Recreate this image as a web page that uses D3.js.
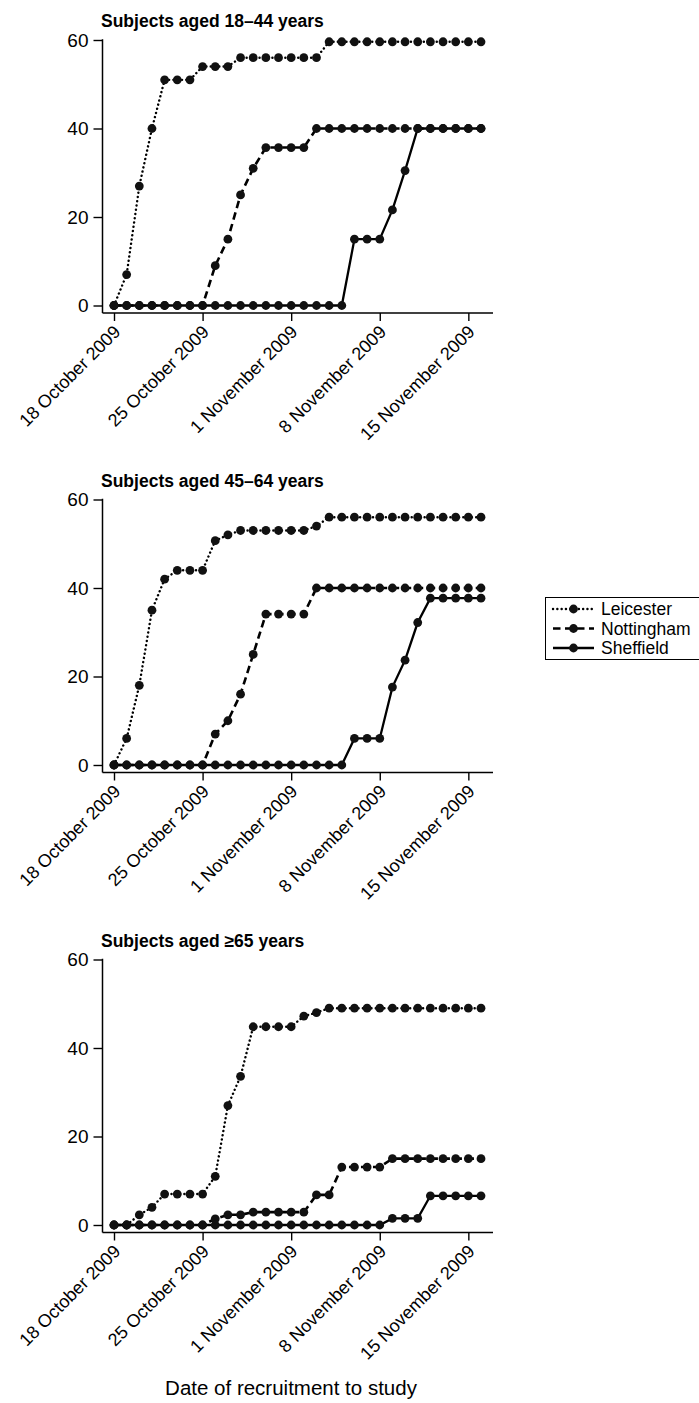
<!DOCTYPE html>
<html>
<head>
<meta charset="utf-8">
<script src="https://cdn.jsdelivr.net/npm/d3@7"></script>
<style>
  html, body { margin: 0; padding: 0; background: #fff; }
  svg { display: block; font-family: "Liberation Sans", Arial, Helvetica, sans-serif; }
</style>
</head>
<body>
<svg id="chart" width="699" height="1403"></svg>
<script>
// Recruitment dates (one point per day)
const dates = [
  "2009-10-18","2009-10-19","2009-10-20","2009-10-21","2009-10-22","2009-10-23",
  "2009-10-24","2009-10-25","2009-10-26","2009-10-27","2009-10-28","2009-10-29",
  "2009-10-30","2009-10-31","2009-11-01","2009-11-02","2009-11-03","2009-11-04",
  "2009-11-05","2009-11-06","2009-11-07","2009-11-08","2009-11-09","2009-11-10",
  "2009-11-11","2009-11-12","2009-11-13","2009-11-14","2009-11-15","2009-11-16"
];
const tickDates = ["2009-10-18","2009-10-25","2009-11-01","2009-11-08","2009-11-15"];
const yTicks = [0, 20, 40, 60];

const sites = ["Leicester", "Nottingham", "Sheffield"];
const panelTitles = ["Subjects aged 18\u201344 years", "Subjects aged 45\u201364 years", "Subjects aged \u226565 years"];

// Cumulative recruitment, aged 18-44
const leicester1844  = [0,7,27,40,51,51,51,54,54,54,56,56,56,56,56,56,56,59.6,59.6,59.6,59.6,59.6,59.6,59.6,59.6,59.6,59.6,59.6,59.6,59.6];
const nottingham1844 = [0,0,0,0,0,0,0,0,9,15,25,31,35.7,35.7,35.7,35.7,40,40,40,40,40,40,40,40,40,40,40,40,40,40];
const sheffield1844  = [0,0,0,0,0,0,0,0,0,0,0,0,0,0,0,0,0,0,0,15,15,15,21.6,30.5,40,40,40,40,40,40];

// Cumulative recruitment, aged 45-64
const leicester4564  = [0,6,18,35,42,44,44,44,50.7,52,53,53,53,53,53,53,54,56,56,56,56,56,56,56,56,56,56,56,56,56];
const nottingham4564 = [0,0,0,0,0,0,0,0,7,10,16,25,34.1,34.1,34.1,34.1,40,40,40,40,40,40,40,40,40,40,40,40,40,40];
const sheffield4564  = [0,0,0,0,0,0,0,0,0,0,0,0,0,0,0,0,0,0,0,6,6,6,17.6,23.7,32.2,37.7,37.7,37.7,37.7,37.7];

// Cumulative recruitment, aged 65 and over
const leicester65  = [0,0,2.3,4,7,7,7,7,11,27,33.6,44.8,44.8,44.8,44.8,47.2,48,49,49,49,49,49,49,49,49,49,49,49,49,49];
const nottingham65 = [0,0,0,0,0,0,0,0,1.4,2.3,2.3,2.9,2.9,2.9,2.9,2.9,6.8,6.8,13.1,13.1,13.1,13.1,15,15,15,15,15,15,15,15];
const sheffield65  = [0,0,0,0,0,0,0,0,0,0,0,0,0,0,0,0,0,0,0,0,0,0,1.5,1.5,1.5,6.6,6.6,6.6,6.6,6.6];

const panelSeries = [
  [leicester1844, nottingham1844, sheffield1844],
  [leicester4564, nottingham4564, sheffield4564],
  [leicester65, nottingham65, sheffield65]
];

const parse = d3.timeParse("%Y-%m-%d");
const dayDates = dates.map(parse);
const tickValues = tickDates.map(parse);

// line style per site
const lineStyle = {
  Leicester:  { dash: "0.1 4.2", width: 2.4, cap: "round" },
  Nottingham: { dash: "7.5 4.5", width: 2.6, cap: "butt" },
  Sheffield:  { dash: null,      width: 2.3, cap: "butt" }
};

const svg = d3.select("#chart");

const plotLeft = 102.5, plotRight = 493;
const x = d3.scaleTime()
  .domain([dayDates[0], dayDates[dayDates.length - 1]])
  .range([114, 481]);

const panelOffsets = [0, 459.5, 919.5];
const markerR = 4.4;

panelOffsets.forEach((off, pi) => {
  const g = svg.append("g").attr("transform", `translate(0,${off})`);
  const y = d3.scaleLinear().domain([0, 60]).range([305.5, 40]);
  const axisY = 313;

  // panel title
  g.append("text")
    .attr("x", 101)
    .attr("y", 27)
    .attr("font-size", 17.5)
    .attr("font-weight", "bold")
    .attr("fill", "#000")
    .text(panelTitles[pi]);

  // y axis
  const yAxis = d3.axisLeft(y).tickValues(yTicks).tickSize(9).tickPadding(5);
  const gy = g.append("g").attr("transform", `translate(${plotLeft},0)`).call(yAxis);
  gy.select(".domain").remove();
  gy.selectAll(".tick line").attr("stroke", "#000").attr("stroke-width", 1.4);
  gy.selectAll(".tick text").attr("font-size", 19).attr("fill", "#000")
    .attr("font-family", "'Liberation Sans', Arial, sans-serif");
  g.append("line")
    .attr("x1", plotLeft).attr("x2", plotLeft)
    .attr("y1", y(60) - 0.7).attr("y2", axisY)
    .attr("stroke", "#000").attr("stroke-width", 1.5);

  // x axis
  const xAxis = d3.axisBottom(x).tickValues(tickValues).tickSize(8)
    .tickFormat(d3.timeFormat("%-d %B %Y"));
  const gx = g.append("g").attr("transform", `translate(0,${axisY})`).call(xAxis);
  gx.select(".domain").remove();
  gx.selectAll(".tick line").attr("stroke", "#000").attr("stroke-width", 1.4);
  gx.selectAll(".tick text")
    .attr("font-size", 18)
    .attr("fill", "#000")
    .attr("font-family", "'Liberation Sans', Arial, sans-serif")
    .attr("text-anchor", "end")
    .attr("dy", null)
    .attr("y", 0)
    .attr("transform", "translate(7,20) rotate(-45)");
  g.append("line")
    .attr("x1", plotLeft).attr("x2", plotRight)
    .attr("y1", axisY).attr("y2", axisY)
    .attr("stroke", "#000").attr("stroke-width", 1.5);

  // series: line then markers
  const line = d3.line().x((d, i) => x(dayDates[i])).y(d => y(d));
  panelSeries[pi].forEach((vals, si) => {
    const st = lineStyle[sites[si]];
    g.append("path")
      .datum(vals)
      .attr("d", line)
      .attr("fill", "none")
      .attr("stroke", "#000")
      .attr("stroke-width", st.width)
      .attr("stroke-linecap", st.cap)
      .attr("stroke-dasharray", st.dash);
    g.selectAll(null)
      .data(vals)
      .enter().append("circle")
      .attr("cx", (d, i) => x(dayDates[i]))
      .attr("cy", d => y(d))
      .attr("r", markerR)
      .attr("fill", "#111");
  });
});

// x axis title
svg.append("text")
  .attr("x", 291)
  .attr("y", 1395)
  .attr("text-anchor", "middle")
  .attr("font-size", 20.5)
  .attr("fill", "#000")
  .text("Date of recruitment to study");

// legend
const lg = svg.append("g");
lg.append("rect")
  .attr("x", 545.5).attr("y", 597.5)
  .attr("width", 158).attr("height", 62)
  .attr("fill", "#fff").attr("stroke", "#000").attr("stroke-width", 1);
sites.forEach((s, i) => {
  const cy = 609 + i * 19.5;
  const st = lineStyle[s];
  lg.append("line")
    .attr("x1", 553).attr("x2", 594)
    .attr("y1", cy).attr("y2", cy)
    .attr("stroke", "#000")
    .attr("stroke-width", st.width)
    .attr("stroke-linecap", st.cap)
    .attr("stroke-dasharray", st.dash);
  lg.append("circle").attr("cx", 573.5).attr("cy", cy).attr("r", markerR).attr("fill", "#111");
  lg.append("text")
    .attr("x", 601).attr("y", cy + 6)
    .attr("font-size", 17.5)
    .attr("fill", "#000")
    .text(s);
});
</script>
</body>
</html>
